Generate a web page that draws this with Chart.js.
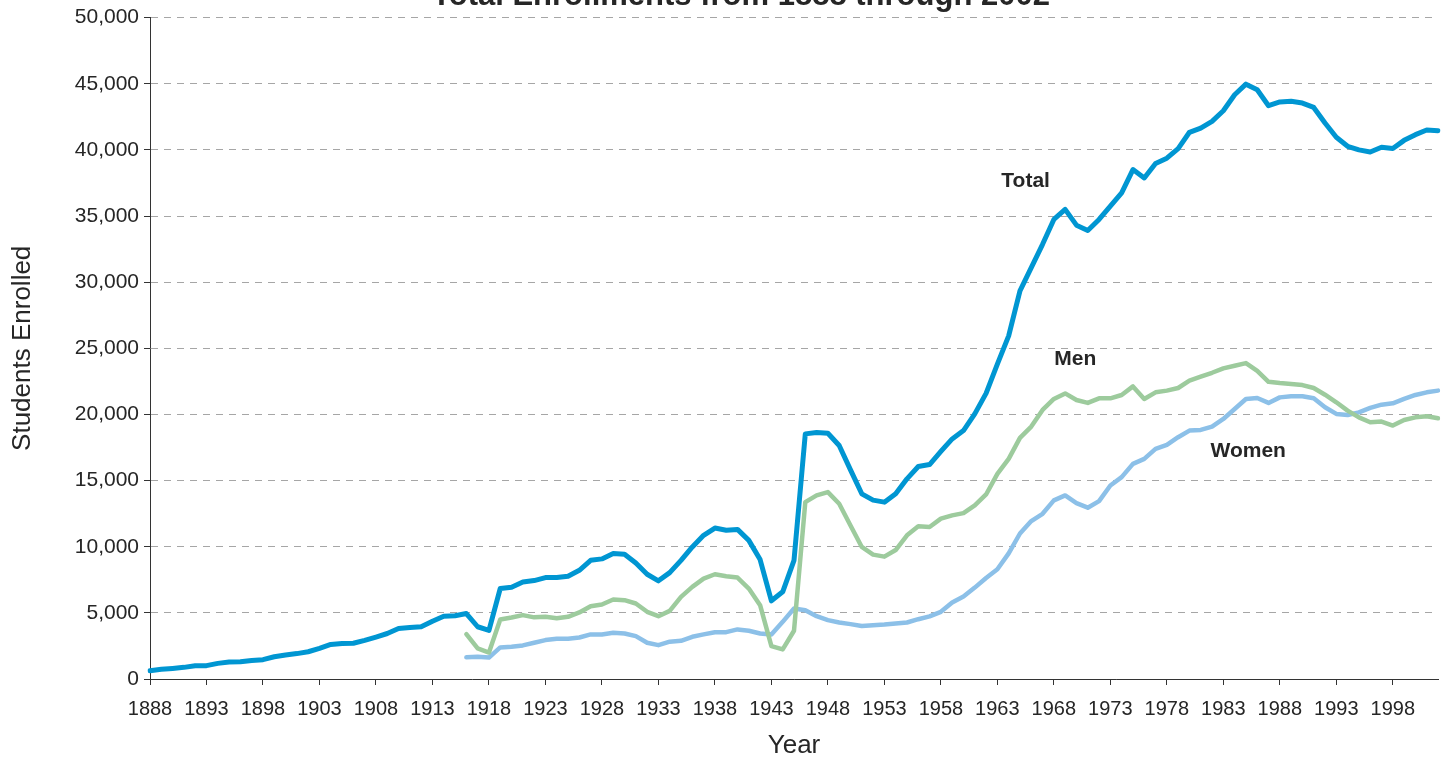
<!DOCTYPE html>
<html>
<head>
<meta charset="utf-8">
<script src="https://cdn.jsdelivr.net/npm/chart.js@4.4.1/dist/chart.umd.min.js"></script>
<style>
  html, body { margin: 0; padding: 0; background: #fff; }
  #wrap { width: 1444px; height: 759px; }
</style>
</head>
<body>
<div id="wrap"><canvas id="enrollChart" width="1444" height="759"></canvas></div>
<script>
// Enrollment data
const firstYear = 1888;
const years = [];
for (let y = firstYear; y <= 2002; y++) years.push(y);

const totalEnrolled = [
    630, 730, 800, 880, 1000, 1010, 1180, 1280, 1300, 1400,          // 1888-1897
    1460, 1680, 1820, 1920, 2060, 2310, 2610, 2690, 2700, 2920,      // 1898-1907
    3170, 3440, 3820, 3900, 3950, 4370, 4750, 4780, 4950, 3950,      // 1908-1917
    3670, 6840, 6940, 7330, 7440, 7670, 7670, 7770, 8220, 8970,      // 1918-1927
    9080, 9480, 9430, 8770, 7920, 7420, 8040, 8970, 9980, 10860,     // 1928-1937
    11410, 11240, 11310, 10480, 9030, 5910, 6590, 8970, 18530, 18630, // 1938-1947
    18580, 17650, 15810, 14000, 13520, 13370, 14000, 15130, 16060, 16210, // 1948-1957
    17200, 18150, 18780, 20040, 21590, 23810, 25940, 29340, 31100, 32860, // 1958-1967
    34740, 35500, 34310, 33910, 34740, 35750, 36750, 38510, 37880, 38970, // 1968-1977
    39370, 40100, 41330, 41650, 42160, 42960, 44170, 44970, 44550, 43340, // 1978-1987
    43620, 43670, 43540, 43210, 42030, 40950, 40270, 40000, 39840, 40200, // 1988-1997
    40100, 40720, 41150, 41500, 41450                                  // 1998-2002
];

// men / women are only reported from 1916 on
const splitStartYear = 1916;
const menEnrolled = [
    3390, 2310, 2000, 4500,                                            // 1916-1919
    4650, 4830, 4660, 4700, 4600, 4700, 5030, 5500, 5630, 6010,        // 1920-1929
    5960, 5710, 5080, 4750, 5150, 6210, 6960, 7590, 7920, 7770,        // 1930-1939
    7670, 6840, 5580, 2490, 2240, 3650, 13370, 13880, 14130, 13250,    // 1940-1949
    11610, 9980, 9400, 9250, 9750, 10860, 11540, 11490, 12120, 12370,  // 1950-1959
    12540, 13120, 13950, 15510, 16640, 18230, 19080, 20340, 21170, 21590, // 1960-1969
    21090, 20870, 21220, 21220, 21470, 22120, 21170, 21670, 21800, 22000, // 1970-1979
    22550, 22850, 23150, 23480, 23680, 23880, 23300, 22470, 22370, 22300, // 1980-1989
    22220, 22000, 21490, 20920, 20290, 19780, 19410, 19460, 19160, 19580, // 1990-1999
    19780, 19860, 19710                                                // 2000-2002
];
const womenEnrolled = [
    1640, 1680, 1620, 2390,                                            // 1916-1919
    2440, 2540, 2740, 2940, 3040, 3040, 3140, 3370, 3370, 3490,        // 1920-1929
    3440, 3240, 2740, 2560, 2820, 2890, 3190, 3370, 3540, 3540,        // 1930-1939
    3750, 3650, 3440, 3370, 4320, 5330, 5200, 4750, 4450, 4270,        // 1940-1949
    4150, 4000, 4070, 4120, 4200, 4270, 4520, 4730, 5080, 5780,        // 1950-1959
    6230, 6910, 7640, 8300, 9500, 11000, 11940, 12490, 13500, 13880,   // 1960-1969
    13300, 12950, 13450, 14630, 15260, 16260, 16640, 17400, 17700, 18280, // 1970-1979
    18780, 18830, 19080, 19660, 20410, 21170, 21240, 20870, 21290, 21370, // 1980-1989
    21370, 21220, 20540, 20040, 19960, 20160, 20490, 20740, 20840, 21170, // 1990-1999
    21470, 21670, 21800                                                // 2000-2002
];

// series labels placed in data space (year, value)
const seriesLabels = [
    { text: 'Total', year: 1965.5, value: 37600 },
    { text: 'Men', year: 1969.9, value: 24150 },
    { text: 'Women', year: 1985.2, value: 17250 }
];

const chartTitle = 'Total Enrollments from 1888 through 2002';

// pad the split series with nulls before 1916
function padSeries(values) {
    const lead = new Array(splitStartYear - firstYear).fill(null);
    return lead.concat(values);
}

const fontFamily = '"Liberation Sans", Arial, sans-serif';
const textColor = '#262626';

// draws the (clipped) title and the series labels
const labelPlugin = {
    id: 'labelPlugin',
    afterDatasetsDraw(chart) {
        const ctx = chart.ctx;
        const xs = chart.scales.x;
        const ys = chart.scales.y;
        ctx.save();
        ctx.fillStyle = textColor;
        ctx.textAlign = 'center';
        ctx.textBaseline = 'middle';
        ctx.font = 'bold 21px ' + fontFamily;
        seriesLabels.forEach(l => {
            const i = l.year - firstYear;
            const px = xs.left + (xs.right - xs.left) * i / (years.length - 1);
            ctx.fillText(l.text, px, ys.getPixelForValue(l.value));
        });
        ctx.font = 'bold 31px ' + fontFamily;
        ctx.textBaseline = 'alphabetic';
        ctx.fillText(chartTitle, 741, 5);
        ctx.restore();
    }
};

const enrollChart = new Chart(document.getElementById('enrollChart'), {
    type: 'line',
    data: {
        labels: years,
        datasets: [
            { label: 'Total', data: totalEnrolled, borderColor: '#0096d2', borderWidth: 5 },
            { label: 'Men', data: padSeries(menEnrolled), borderColor: '#9dcb9d', borderWidth: 4.5 },
            { label: 'Women', data: padSeries(womenEnrolled), borderColor: '#8cc0e8', borderWidth: 4.5 }
        ]
    },
    options: {
        responsive: false,
        animation: false,
        devicePixelRatio: 1,
        layout: { padding: { top: 16, right: 6, left: 0, bottom: 0 } },
        elements: {
            line: { tension: 0, borderJoinStyle: 'round', borderCapStyle: 'round', fill: false },
            point: { radius: 0, hoverRadius: 0 }
        },
        plugins: {
            legend: { display: false },
            title: { display: false },
            tooltip: { enabled: false }
        },
        scales: {
            x: {
                type: 'category',
                offset: false,
                afterFit(scale) { scale.height = 80; },
                grid: { drawOnChartArea: false, color: '#333', tickColor: '#333', tickLength: 6 },
                border: { color: '#333', width: 1 },
                ticks: {
                    autoSkip: false,
                    maxRotation: 0,
                    minRotation: 0,
                    padding: 12,
                    color: textColor,
                    font: { family: fontFamily, size: 20 },
                    callback: (val, i) => ((years[i] - firstYear) % 5 === 0 ? String(years[i]) : null)
                },
                title: {
                    display: true,
                    text: 'Year',
                    color: textColor,
                    font: { family: fontFamily, size: 26, lineHeight: 1 },
                    padding: { top: 0, bottom: 0 }
                }
            },
            y: {
                min: 0,
                max: 50000,
                afterFit(scale) { scale.width = 150; },
                grid: { color: '#a6a6a6', lineWidth: 1, tickColor: '#333', tickLength: 6, tickBorderDash: [] },
                border: { color: '#333', width: 1, dash: [7, 6] },
                ticks: {
                    stepSize: 5000,
                    padding: 5,
                    color: textColor,
                    font: { family: fontFamily, size: 21 },
                    callback: v => v.toLocaleString('en-US')
                },
                title: {
                    display: true,
                    text: 'Students Enrolled',
                    color: textColor,
                    font: { family: fontFamily, size: 26 },
                    padding: { top: 7, bottom: 0 }
                }
            }
        }
    },
    plugins: [labelPlugin]
});
</script>
</body>
</html>
